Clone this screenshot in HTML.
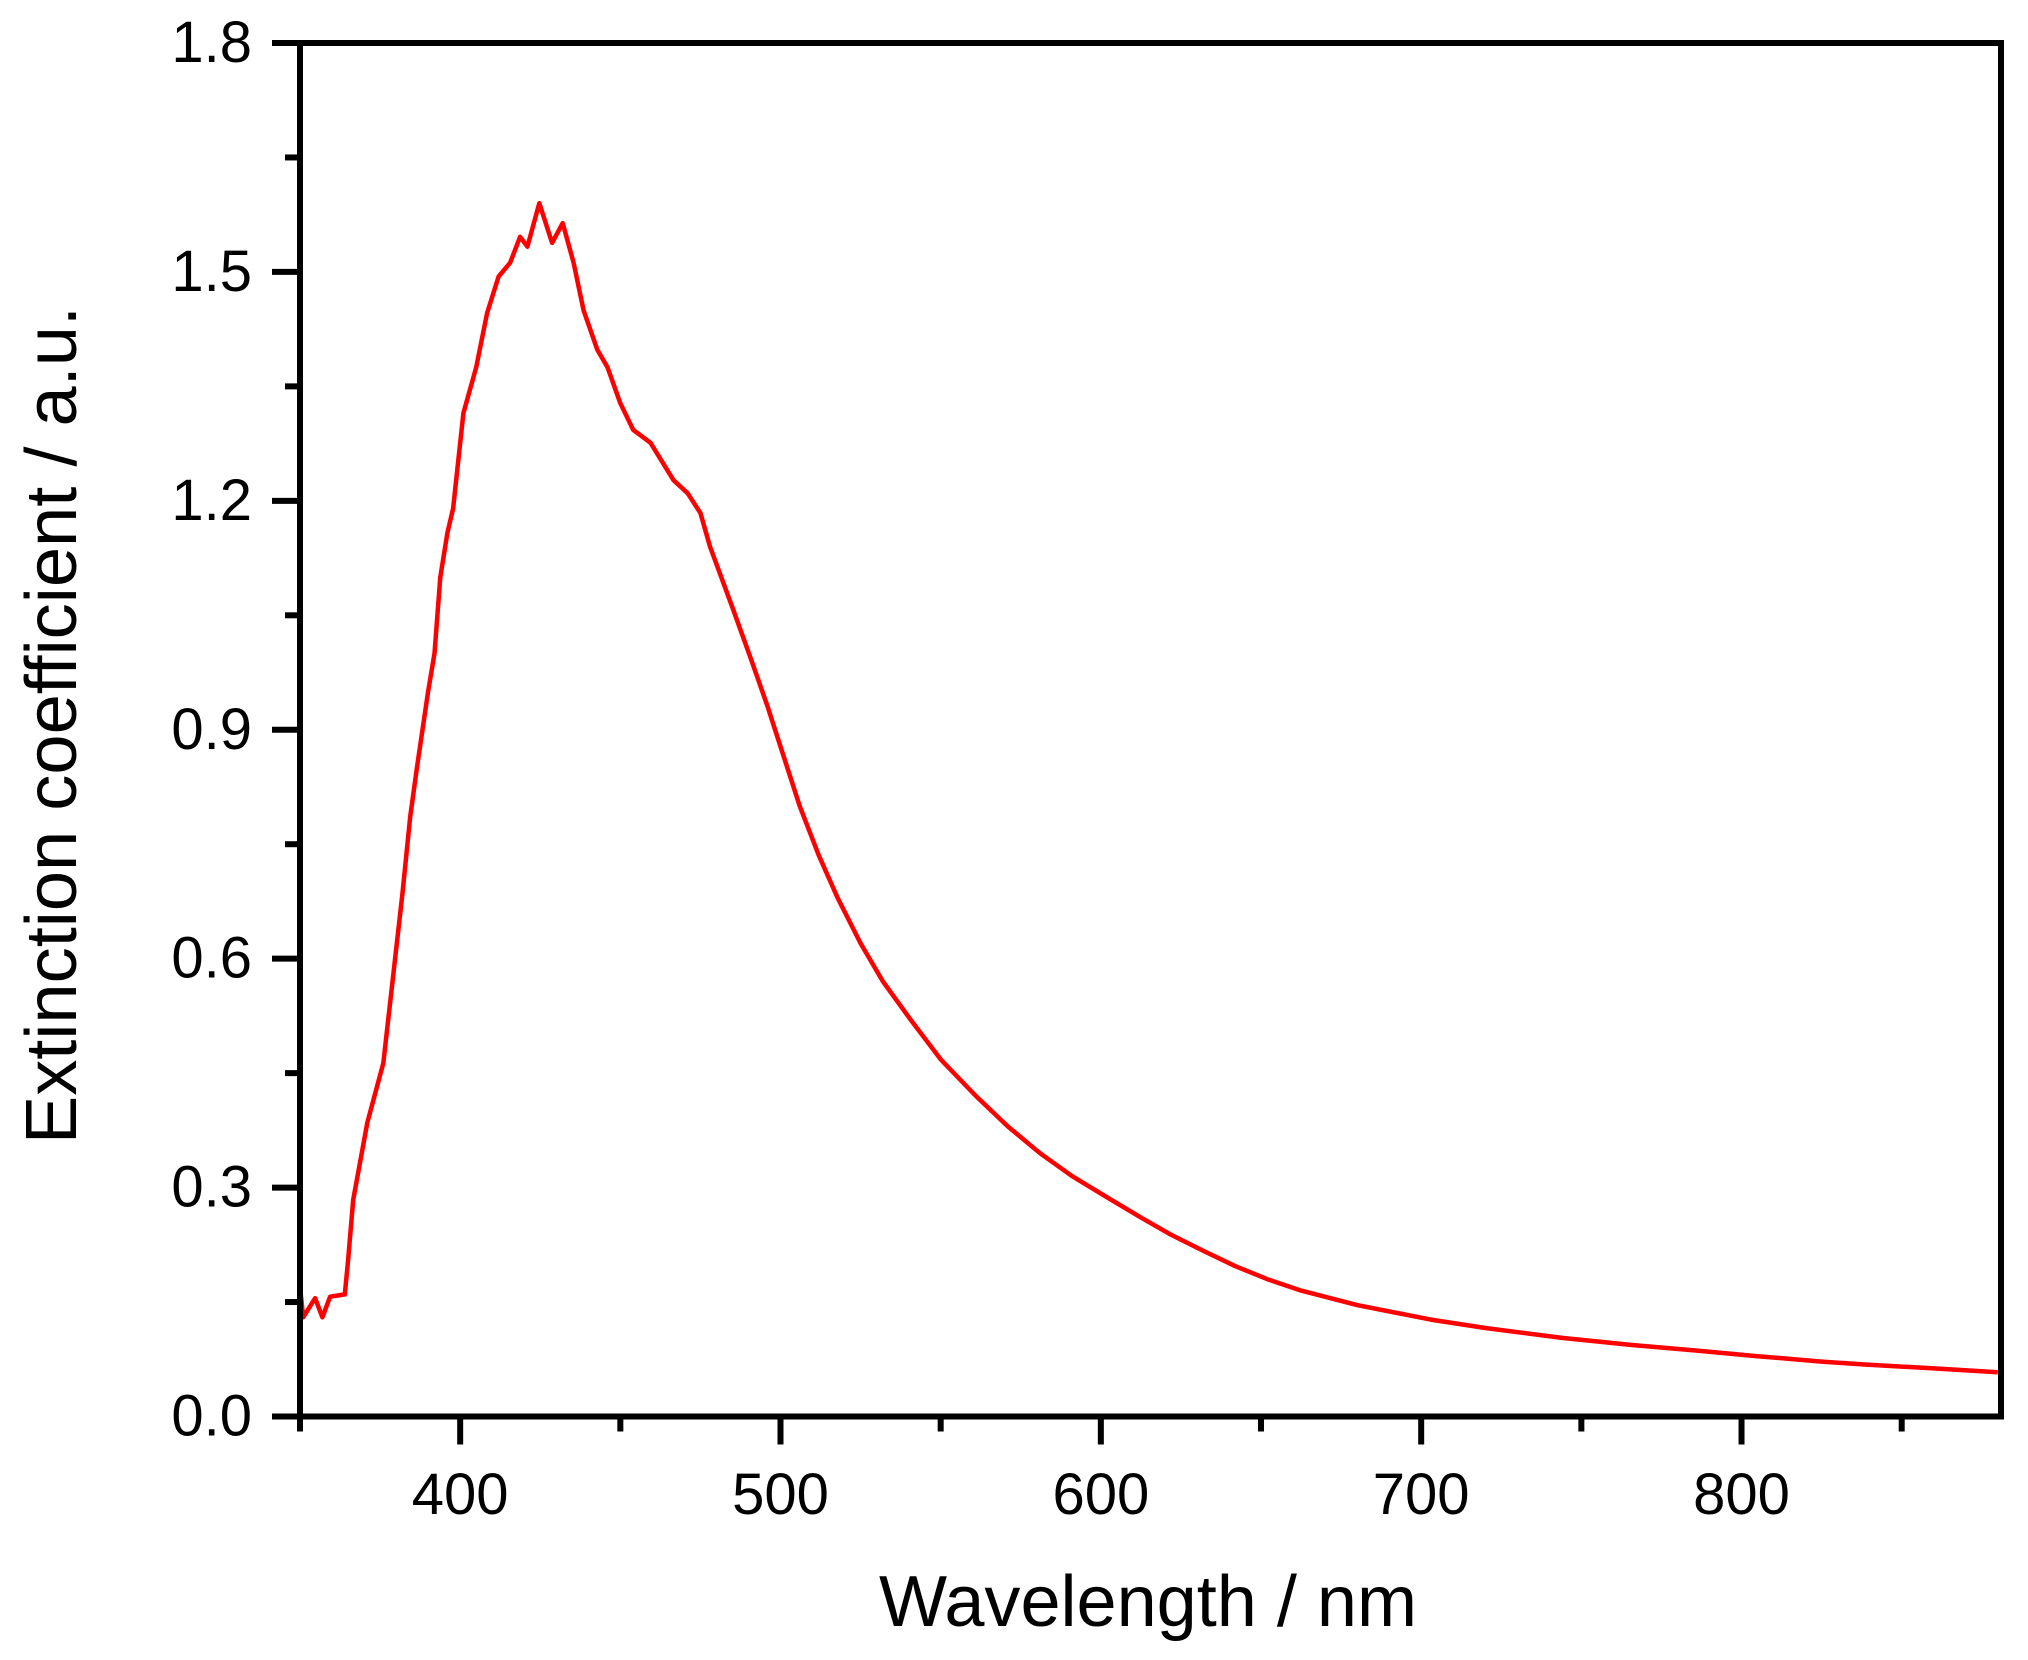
<!DOCTYPE html>
<html><head><meta charset="utf-8"><style>
html,body{margin:0;padding:0;background:#fff;}
svg{display:block;font-family:"Liberation Sans",Arial,sans-serif;}
</style></head><body>
<svg id="chart" width="2028" height="1660" viewBox="0 0 2028 1660" xmlns="http://www.w3.org/2000/svg">
<rect width="2028" height="1660" fill="#fff"/>
<g id="marks"></g>
<g id="axes"></g>
</svg>
<script>
const wavelengths = [350,351,354.7,357,359.4,364,365,366.6,371,376,382,384.4,386.5,390,392,393.8,396,397.8,401,405,408.4,412,415.6,418.7,421,424.7,428.7,432,435.4,438.5,442.8,446,450,454,459.4,466.6,471,475,478,485,491,496,501,506,512,517.8,525,532,540.6,550,561,571,581,591,601.6,612,622,632,642,652,662.5,680,703,720,744,765,787,805,825,839,860,880];
const extinction = [0.17,0.13,0.155,0.13,0.157,0.16,0.205,0.284,0.385,0.463,0.686,0.786,0.85,0.95,1.0,1.1,1.158,1.19,1.315,1.375,1.446,1.494,1.512,1.546,1.533,1.59,1.538,1.564,1.512,1.45,1.398,1.375,1.328,1.293,1.276,1.227,1.21,1.184,1.14,1.06,0.99,0.93,0.865,0.8,0.735,0.68,0.62,0.57,0.52,0.468,0.42,0.38,0.345,0.315,0.288,0.262,0.238,0.217,0.197,0.18,0.165,0.146,0.127,0.116,0.103,0.094,0.086,0.079,0.072,0.068,0.063,0.058];
const xTicks = [400,500,600,700,800];
const xMinor = [350,450,550,650,750,850];
const yTicks = [0,0.3,0.6,0.9,1.2,1.5,1.8];
const yTickLabels = ["0.0","0.3","0.6","0.9","1.2","1.5","1.8"];
const yMinor = [0.15,0.45,0.75,1.05,1.35,1.65];

const X0=300,X1=2001,Y0=1416.5,Y1=43;
const xMin=350,xMax=881,yMin=0,yMax=1.8;
function sx(v){return X0+(v-xMin)/(xMax-xMin)*(X1-X0);}
function sy(v){return Y0-(v-yMin)/(yMax-yMin)*(Y0-Y1);}
const NS="http://www.w3.org/2000/svg";
const marks=document.getElementById('marks');
const axes=document.getElementById('axes');
function mk(tag,attrs,parent){const e=document.createElementNS(NS,tag);for(const k in attrs)e.setAttribute(k,attrs[k]);parent.appendChild(e);return e;}

let d='';
for(let i=0;i<wavelengths.length;i++){d+=(i?'L':'M')+sx(wavelengths[i]).toFixed(1)+' '+sy(extinction[i]).toFixed(1);}
const line=mk('path',{d:d,fill:'none',stroke:'#ff0000','stroke-width':4.5,'stroke-linejoin':'round'},marks);



const frame=mk('rect',{x:X0,y:Y1,width:X1-X0,height:Y0-Y1,fill:'none',stroke:'#000','stroke-width':6},axes);



xTicks.forEach(v=>{
  const t=mk('line',{x1:sx(v),x2:sx(v),y1:Y0,y2:Y0+28,stroke:'#000','stroke-width':6},axes);
  
  
  const l=mk('text',{x:sx(v),y:1514,'font-size':58,'text-anchor':'middle',fill:'#000'},axes);
  l.textContent=v;
  
  
});
xMinor.forEach(v=>{
  const t=mk('line',{x1:sx(v),x2:sx(v),y1:Y0,y2:Y0+15,stroke:'#000','stroke-width':6},axes);
  
  
});
yTicks.forEach((v,i)=>{
  const t=mk('line',{x1:X0-28,x2:X0,y1:sy(v),y2:sy(v),stroke:'#000','stroke-width':6},axes);
  
  
  const l=mk('text',{x:252,y:sy(v)+19,'font-size':58,'text-anchor':'end',fill:'#000'},axes);
  l.textContent=yTickLabels[i];
  
  
});
yMinor.forEach(v=>{
  const t=mk('line',{x1:X0-15,x2:X0,y1:sy(v),y2:sy(v),stroke:'#000','stroke-width':6},axes);
  
  
});
const xt=mk('text',{x:1148,y:1626,'font-size':72,'text-anchor':'middle',fill:'#000',textLength:538,lengthAdjust:'spacingAndGlyphs'},axes);
xt.textContent='Wavelength / nm';


const yt=mk('text',{x:0,y:0,'font-size':72,'text-anchor':'middle',fill:'#000',textLength:838,lengthAdjust:'spacingAndGlyphs',transform:'translate(76,725) rotate(-90)'},axes);
yt.textContent='Extinction coefficient / a.u.';


</script>
</body></html>
